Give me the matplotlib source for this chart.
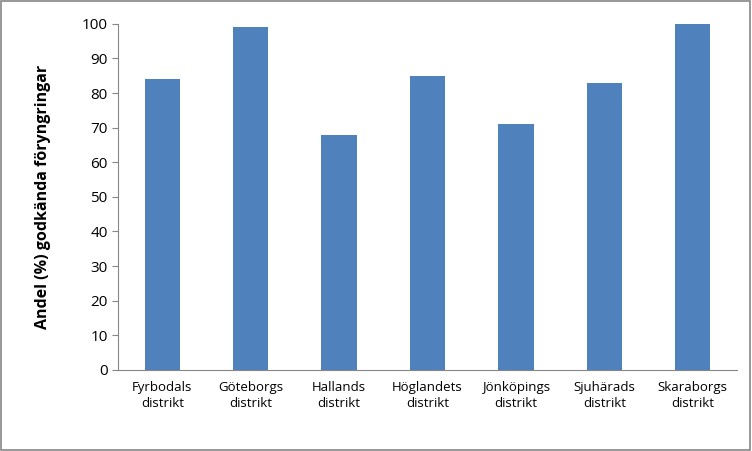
import matplotlib
matplotlib.use("Agg")
import matplotlib.pyplot as plt
from matplotlib.patches import Rectangle

categories = ["Fyrbodals\ndistrikt", "Göteborgs\ndistrikt", "Hallands\ndistrikt", "Höglandets\ndistrikt",
              "Jönköpings\ndistrikt", "Sjuhärads\ndistrikt", "Skaraborgs\ndistrikt"]
values = [84, 99, 68, 85, 71, 83, 100]
yticks = list(range(0, 101, 10))

plt.rcParams["font.family"] = "Open Sans"
fig = plt.figure(figsize=(7.52, 4.51), dpi=100)
fig.patches.append(Rectangle((0.001, 0.002), 0.997, 0.996, transform=fig.transFigure,
                             fill=False, edgecolor="#868686", linewidth=1.2))
ax = fig.add_axes([0.157, 0.18, 0.823, 0.767])
x = range(len(categories))
ax.bar(x, values, width=0.4, color="#4F81BD")
ax.set_xlim(-0.5, len(categories) - 0.5)
ax.set_ylim(0, 100)
ax.set_yticks(yticks)
ax.set_yticklabels([str(t) for t in yticks], fontsize=11)
ax.set_xticks(list(x))
ax.set_xticklabels(categories, fontsize=9.5, linespacing=1.35)
ax.tick_params(axis="x", length=0, pad=8)
ax.tick_params(axis="y", length=4, direction="out", color="#868686")
ax.grid(False)
for s in ["top", "right"]:
    ax.spines[s].set_visible(False)
for s in ["left", "bottom"]:
    ax.spines[s].set_color("#868686")
ax.set_ylabel("Andel (%) godkända föryngringar", fontsize=11.5, fontweight="bold", labelpad=22)
fig.savefig("out.png", dpi=100)
